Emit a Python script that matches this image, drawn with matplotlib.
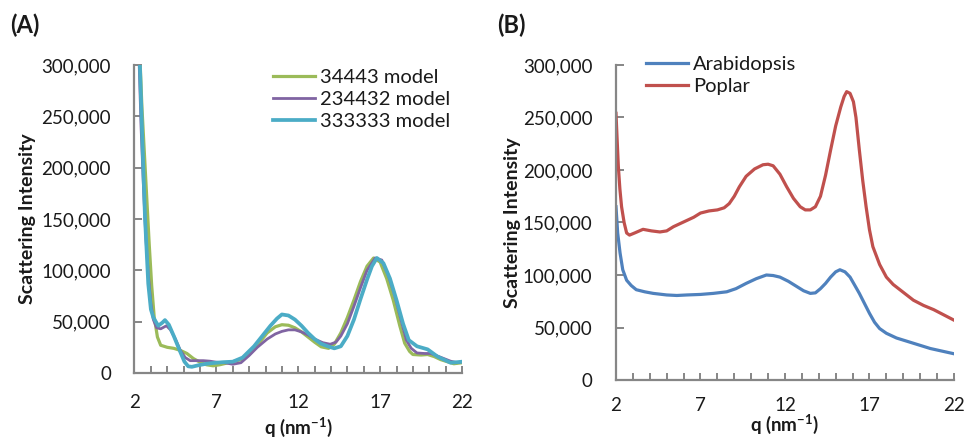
import matplotlib
matplotlib.use("Agg")
import matplotlib.pyplot as plt
from matplotlib.ticker import FixedLocator, MultipleLocator, FuncFormatter

plt.rcParams['font.family'] = ['Lato', 'DejaVu Sans']

# ---------------- Panel A data ----------------
q_green = [2.30, 2.45, 2.6, 2.75, 2.9, 3.05, 3.2, 3.4, 3.6, 4.0, 4.4, 4.8, 5.2, 5.6, 6.0, 6.4, 6.8, 7.2, 7.6, 8.0, 8.5, 9.0,
           9.5, 10.1, 10.6, 11.0, 11.4, 11.8, 12.2, 12.6, 13.0, 13.4, 13.85, 14.2, 14.6, 15.0, 15.4, 15.8, 16.2,
           16.6, 17.0, 17.4, 17.8, 18.2, 18.5, 18.8, 19.0, 19.5, 19.9, 20.3, 20.7, 21.1, 21.5, 22.0]
I_green = [320000, 260000, 215000, 170000, 125000, 85000, 55000, 35000, 27000, 25000, 24000, 22000, 19000, 14000, 10500, 8000, 7000, 8000, 9500, 11000, 13000, 18000,
           27000, 39000, 45000, 47000, 46500, 44000, 40000, 35000, 30000, 25500, 24000, 28000, 39000, 54000, 71000, 89000, 104000,
           112000, 108000, 92000, 71000, 46000, 29000, 21000, 18000, 17500, 18000, 16000, 13000, 11000, 9000, 10000]

q_purple = [2.25, 2.4, 2.55, 2.7, 2.85, 3.0, 3.15, 3.35, 3.6, 3.95, 4.2, 4.5, 4.8, 5.1, 5.4, 5.8, 6.2, 6.6, 7.0, 7.5, 8.0, 8.5,
            9.0, 9.5, 10.1, 10.6, 11.0, 11.4, 11.8, 12.2, 12.6, 13.0, 13.5, 13.95, 14.3, 14.6, 15.0, 15.4, 15.8,
            16.2, 16.7, 17.1, 17.5, 17.9, 18.3, 18.6, 18.9, 19.25, 19.7, 20.1, 20.5, 20.9, 21.3, 21.7, 22.0]
I_purple = [320000, 240000, 180000, 130000, 95000, 68000, 52000, 44000, 43000, 46000, 42000, 33000, 22000, 15000, 12000, 12000, 12000, 11500, 10500, 10000, 8500, 10000,
            17000, 25000, 33000, 38000, 40500, 42000, 42000, 40000, 37000, 33000, 29500, 28000, 30000, 36000, 48000, 65000, 83000,
            100000, 112000, 110000, 95000, 75000, 50000, 32000, 24000, 19500, 19000, 19000, 16500, 14000, 11500, 10000, 11000]

q_cyan = [2.20, 2.33, 2.5, 2.64, 2.84, 3.0, 3.15, 3.45, 3.7, 3.86, 4.1, 4.4, 4.77, 5.05, 5.28, 5.5, 5.9, 6.4, 6.8, 7.4, 8.0, 8.6,
          9.3, 9.8, 10.3, 10.7, 11.0, 11.4, 11.8, 12.2, 12.6, 13.0, 13.4, 13.8, 14.2, 14.6, 15.0, 15.4, 15.8, 16.2,
          16.5, 16.8, 17.2, 17.6, 18.0, 18.4, 18.75, 19.25, 19.9, 20.5, 20.9, 21.3, 21.7, 22.0]
I_cyan = [330000, 300000, 217000, 152000, 87000, 62000, 54000, 46000, 49000, 51500, 47000, 36000, 21500, 11000, 6500, 6000, 7500, 9000, 9700, 10500, 11000, 15000,
          26000, 36000, 46000, 53000, 57000, 56000, 52000, 46000, 39000, 33000, 28500, 26000, 24000, 26000, 36000, 52000, 72000, 91000,
          104000, 112000, 107000, 92000, 71000, 48000, 32000, 26000, 23000, 16000, 13000, 10000, 10500, 11000]

# ---------------- Panel B data ----------------
q_arab = [2.0, 2.1, 2.24, 2.4, 2.63, 2.9, 3.2, 3.7, 4.2, 5.0, 5.6, 6.2, 7.0, 7.76, 8.55, 9.1, 9.7, 10.3, 10.9, 11.3, 11.7,
          12.2, 12.7, 13.1, 13.5, 13.8, 14.1, 14.4, 14.7, 15.0, 15.25, 15.55, 15.85, 16.1, 16.4, 16.7, 17.0, 17.3,
          17.6, 18.0, 18.6, 19.1, 19.6, 20.1, 20.6, 21.3, 22.0]
I_arab = [165000, 140000, 121000, 105000, 95000, 90000, 86000, 84000, 82500, 81000, 80500, 81000, 81500, 82500, 84000, 87000, 92000, 96500, 100000, 99500, 98000,
          94000, 89000, 85000, 82500, 83000, 87000, 92000, 98000, 103000, 105000, 103000, 98000, 91000, 82500, 73000, 63500, 55000,
          49000, 44500, 40000, 37500, 35000, 32500, 30000, 27500, 25000]

q_pop = [2.0, 2.07, 2.14, 2.23, 2.33, 2.48, 2.63, 2.8, 3.1, 3.6, 4.1, 4.6, 5.0, 5.4, 5.8, 6.2, 6.6, 7.0, 7.5, 8.0, 8.4, 8.7,
         9.0, 9.3, 9.7, 10.2, 10.7, 11.0, 11.3, 11.7, 12.1, 12.5, 12.9, 13.2, 13.5, 13.8, 14.1, 14.4, 14.7, 15.0,
         15.3, 15.5, 15.65, 15.85, 16.05, 16.2, 16.4, 16.6, 16.8, 17.0, 17.2, 17.6, 18.0, 18.4, 18.8, 19.2, 19.6,
         20.2, 20.8, 21.4, 22.0]
I_pop = [254000, 228000, 203000, 182000, 165000, 150000, 140000, 138000, 140000, 143500, 142000, 141000, 142000, 146000, 149000, 152000, 155000, 159000, 161000, 162000, 164000, 168000,
         175000, 184000, 194000, 201000, 205000, 205500, 204000, 196000, 184000, 173000, 165000, 162000, 162000, 165000, 175000, 195000, 219000, 242000,
         260000, 270000, 274600, 273000, 265000, 250000, 219000, 190000, 165000, 143000, 127000, 110000, 98000, 91000, 86000, 81000, 76000,
         71000, 67000, 62000, 57000]

# ---------------- styling ----------------
C_GREEN = '#9BBB59'
C_PURPLE = '#8064A2'
C_CYAN = '#4BACC6'
C_BLUE = '#4F81BD'
C_RED = '#C0504D'
AX_GRAY = '#868686'
TXT = '#1a1a1a'

fig = plt.figure(figsize=(9.69, 4.37), dpi=100)
axA = fig.add_axes([0.1388, 0.1465, 0.3380, 0.7048])
axB = fig.add_axes([0.6357, 0.1304, 0.3488, 0.7209])

def style(ax, xpad, ylabelpad, xlab_y):
    ax.set_xlim(2, 22)
    ax.set_ylim(0, 300000)
    for s in ('top', 'right'):
        ax.spines[s].set_visible(False)
    for s in ('left', 'bottom'):
        ax.spines[s].set_color(AX_GRAY)
        ax.spines[s].set_linewidth(1.6)
    ax.xaxis.set_major_locator(FixedLocator([2, 7, 12, 17, 22]))
    ax.xaxis.set_minor_locator(MultipleLocator(1))
    ax.yaxis.set_major_locator(MultipleLocator(50000))
    ax.yaxis.set_major_formatter(FuncFormatter(lambda v, p: f"{int(v):,}"))
    ax.tick_params(axis='both', which='both', direction='in', color=AX_GRAY, width=1.4, labelsize=13.5,
                   labelcolor=TXT)
    ax.tick_params(axis='x', which='both', length=5, pad=xpad)
    ax.tick_params(axis='y', which='major', length=6, pad=17)
    ax.set_xlabel('q (nm$^{\\mathregular{-1}}$)', fontsize=13.5, fontweight='bold', color=TXT)
    ax.xaxis.set_label_coords(0.5, xlab_y)
    ax.set_ylabel('Scattering Intensity', fontsize=14, fontweight='bold', color=TXT, labelpad=ylabelpad)

style(axA, 15, 4, -0.135)
style(axB, 12, 1, -0.101)

axA.plot(q_green, I_green, color=C_GREEN, lw=2.3, label='34443 model')
axA.plot(q_purple, I_purple, color=C_PURPLE, lw=2.0, label='234432 model')
axA.plot(q_cyan, I_cyan, color=C_CYAN, lw=2.7, label='333333 model')

axB.plot(q_arab, I_arab, color=C_BLUE, lw=2.3, label='Arabidopsis')
axB.plot(q_pop, I_pop, color=C_RED, lw=2.3, label='Poplar')

legA = axA.legend(loc='upper left', bbox_to_anchor=(0.398, 1.013), frameon=False, fontsize=14.5,
                  handlelength=2.1, handletextpad=0.25, labelspacing=0.24, borderaxespad=0)
legB = axB.legend(loc='upper left', bbox_to_anchor=(0.065, 1.054), frameon=False, fontsize=14.5,
                  handlelength=2.1, handletextpad=0.25, labelspacing=0.24, borderaxespad=0)
for leg in (legA, legB):
    for t in leg.get_texts():
        t.set_color(TXT)

fig.text(0.010, 0.943, '(A)', fontsize=17, fontweight='bold', color=TXT, va='center')
fig.text(0.513, 0.943, '(B)', fontsize=17, fontweight='bold', color=TXT, va='center')

fig.savefig('out.png', dpi=100)
